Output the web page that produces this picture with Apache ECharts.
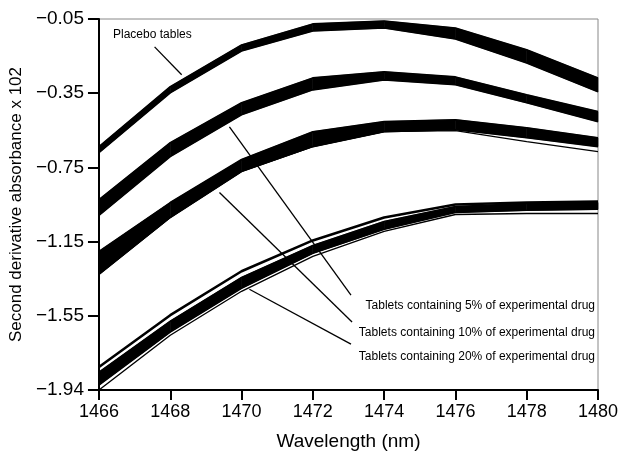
<!DOCTYPE html>
<html>
<head>
<meta charset="utf-8">
<script src="https://cdn.jsdelivr.net/npm/echarts@6/dist/echarts.min.js"></script>
<style>
  html, body { margin: 0; padding: 0; background: #fff; }
  #main { width: 622px; height: 456px; }
</style>
</head>
<body>
<div id="main"></div>
<script>
// wavelengths (nm)
var wavelength = [1466, 1468, 1470, 1472, 1474, 1476, 1478, 1480];

// each group is a band of replicate spectra: upper and lower edge of the band
var placeboTop = [-0.700, -0.395, -0.182, -0.075, -0.060, -0.096, -0.207, -0.350];
var placeboLow = [-0.731, -0.426, -0.213, -0.111, -0.096, -0.152, -0.274, -0.421];

var pct5Top = [-0.970, -0.680, -0.477, -0.350, -0.319, -0.345, -0.436, -0.522];
var pct5Low = [-1.051, -0.751, -0.538, -0.411, -0.360, -0.385, -0.477, -0.573];

var pct10Top = [-1.234, -0.985, -0.766, -0.624, -0.573, -0.563, -0.604, -0.655];
var pct10Low = [-1.351, -1.061, -0.827, -0.700, -0.624, -0.614, -0.655, -0.700];
var pct10Stray = [-1.351, -1.061, -0.827, -0.700, -0.624, -0.619, -0.675, -0.726];

// 20%: separate upper spectrum, dense core, lowest spectrum
var pct20Top = [-1.823, -1.559, -1.335, -1.178, -1.061, -0.995, -0.985, -0.980];
var pct20CoreTop = [-1.849, -1.589, -1.366, -1.203, -1.081, -1.005, -0.990, -0.985];
var pct20CoreLow = [-1.915, -1.645, -1.422, -1.244, -1.122, -1.036, -1.025, -1.020];
var pct20Low = [-1.940, -1.661, -1.437, -1.259, -1.132, -1.046, -1.041, -1.041];

// y tick labels as printed (evenly spaced on the axis)
var yTickLabels = ['\u22121.94', '\u22121.55', '\u22121.15', '\u22120.75', '\u22120.35', '\u22120.05'];
var yMin = -1.94, yMax = -0.05;

// annotation leader lines [x1, y1, x2, y2] in data units
var leaders = [
  [1467.56, -0.192, 1468.32, -0.334],
  [1469.66, -0.599, 1473.07, -1.457],
  [1469.38, -0.934, 1473.10, -1.594],
  [1470.22, -1.427, 1473.07, -1.706]
];

var font = "'Liberation Sans', Arial, Helvetica, sans-serif";
var yTickPos = [];
for (var i = 0; i < yTickLabels.length; i++) {
  yTickPos.push(yMin + i * (yMax - yMin) / (yTickLabels.length - 1));
}

function pairs(arr) {
  var out = [];
  for (var i = 0; i < wavelength.length; i++) out.push([wavelength[i], arr[i]]);
  return out;
}

var series = [];

function addLine(arr, width) {
  series.push({
    type: 'line',
    data: pairs(arr),
    showSymbol: false,
    lineStyle: { color: '#000', width: width },
    silent: true
  });
}

// filled band between upper and lower replicate edges, one quad per segment
function addBand(top, low) {
  var rows = [];
  for (var i = 0; i < wavelength.length; i++) rows.push([wavelength[i], top[i], low[i]]);
  series.push({
    type: 'custom',
    data: rows,
    silent: true,
    renderItem: function (params, api) {
      var k = params.dataIndex;
      if (k >= rows.length - 1) return null;
      var a = rows[k], b = rows[k + 1];
      var pts = [
        api.coord([a[0], a[1]]), api.coord([b[0], b[1]]),
        api.coord([b[0], b[2]]), api.coord([a[0], a[2]])
      ];
      return {
        type: 'polygon',
        shape: { points: pts },
        style: { fill: '#000', stroke: '#000', lineWidth: 0.6 }
      };
    }
  });
}

addBand(placeboTop, placeboLow);
addLine(placeboTop, 1.6); addLine(placeboLow, 1.6);

addBand(pct5Top, pct5Low);
addLine(pct5Top, 1.6); addLine(pct5Low, 1.6);

addBand(pct10Top, pct10Low);
addLine(pct10Top, 1.6); addLine(pct10Low, 1.6); addLine(pct10Stray, 1.2);

addBand(pct20CoreTop, pct20CoreLow);
addLine(pct20CoreTop, 1.4); addLine(pct20CoreLow, 1.4);
addLine(pct20Top, 2.6); addLine(pct20Low, 1.4);

var leaderData = [];
for (var j = 0; j < leaders.length; j++) {
  var l = leaders[j];
  leaderData.push([{ coord: [l[0], l[1]] }, { coord: [l[2], l[3]] }]);
}
series.push({
  type: 'line',
  data: [],
  markLine: {
    silent: true,
    symbol: 'none',
    label: { show: false },
    lineStyle: { color: '#000', width: 1.3, type: 'solid' },
    data: leaderData
  }
});

var myChart = echarts.init(document.getElementById('main'));
var option = {
  animation: false,
  backgroundColor: '#fff',
  grid: {
    left: 97, right: 24, top: 19, bottom: 65,
    show: true, borderColor: '#888', borderWidth: 1
  },
  xAxis: {
    type: 'value',
    min: 1466, max: 1480, interval: 2,
    name: 'Wavelength (nm)',
    nameLocation: 'middle',
    nameGap: 42,
    nameTextStyle: { fontFamily: font, fontSize: 19, color: '#000' },
    axisLine: { lineStyle: { color: '#000', width: 2 } },
    axisTick: { length: 10, lineStyle: { color: '#000', width: 2 } },
    axisLabel: {
      fontFamily: font, fontSize: 18, color: '#000', margin: 13,
      formatter: function (v) { return String(v); }
    },
    splitLine: { show: false }
  },
  yAxis: {
    type: 'value',
    min: yMin, max: yMax,
    name: 'Second derivative absorbance x 102',
    nameLocation: 'middle',
    nameGap: 72,
    nameTextStyle: { fontFamily: font, fontSize: 17, color: '#000' },
    axisLine: { lineStyle: { color: '#000', width: 2 } },
    axisTick: { length: 11, customValues: yTickPos, lineStyle: { color: '#000', width: 2 } },
    axisLabel: {
      fontFamily: font, fontSize: 19, color: '#000', margin: 15,
      customValues: yTickPos,
      formatter: function (v) {
        for (var i = 0; i < yTickPos.length; i++) {
          if (Math.abs(yTickPos[i] - v) < 1e-6) return yTickLabels[i];
        }
        return '';
      }
    },
    splitLine: { show: false }
  },
  graphic: [
    { type: 'text', left: 113, top: 29, style: { text: 'Placebo tables', font: '12px ' + font, fill: '#000' } },
    { type: 'text', right: 27, top: 300, style: { text: 'Tablets containing 5% of experimental drug', font: '12px ' + font, fill: '#000' } },
    { type: 'text', right: 27, top: 327, style: { text: 'Tablets containing 10% of experimental drug', font: '12px ' + font, fill: '#000' } },
    { type: 'text', right: 27, top: 351, style: { text: 'Tablets containing 20% of experimental drug', font: '12px ' + font, fill: '#000' } }
  ],
  series: series
};
myChart.setOption(option);
</script>
</body>
</html>
